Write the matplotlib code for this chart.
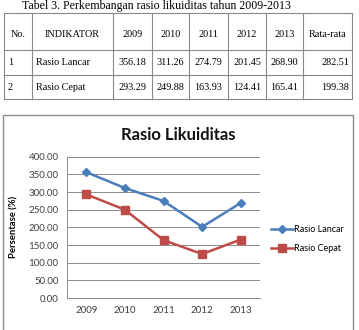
import matplotlib
matplotlib.use("Agg")
import matplotlib.pyplot as plt
from matplotlib.patches import Rectangle

years = ["2009", "2010", "2011", "2012", "2013"]
lancar = [356.18, 311.26, 274.79, 201.45, 268.90]
cepat = [293.29, 249.88, 163.93, 124.41, 165.41]
rata_lancar = 282.51
rata_cepat = 199.38
yticks = [0, 50, 100, 150, 200, 250, 300, 350, 400]

W, H = 359, 330
fig = plt.figure(figsize=(W / 100, H / 100), dpi=100)

# overlay in pixel coords for the table and the chart frame
ov = fig.add_axes([0, 0, 1, 1])
ov.set_xlim(0, W)
ov.set_ylim(H, 0)
ov.axis("off")

serif = "Liberation Serif"
ov.text(156, 6, "Tabel 3. Perkembangan rasio likuiditas tahun 2009-2013",
        ha="center", va="center", fontsize=8.6, family=serif)

cols = [4, 32, 113, 152, 189, 228, 266, 303, 352]
rows = [13, 50, 75, 99]
for x in cols:
    ov.plot([x, x], [rows[0], rows[-1]], color="#888888", lw=0.8)
for y in rows:
    ov.plot([cols[0], cols[-1]], [y, y], color="#888888", lw=0.8)

header = ["No.", "INDIKATOR"] + years + ["Rata-rata"]
table_rows = [
    ["1", "Rasio Lancar"] + ["%.2f" % v for v in lancar] + ["%.2f" % rata_lancar],
    ["2", "Rasio Cepat"] + ["%.2f" % v for v in cepat] + ["%.2f" % rata_cepat],
]
fs = 7.3
hy = (rows[0] + rows[1]) / 2 + 3
for i, h in enumerate(header):
    ov.text((cols[i] + cols[i + 1]) / 2, hy, h, ha="center", va="center",
            fontsize=fs, family=serif)
for r, vals in enumerate(table_rows):
    y = (rows[r + 1] + rows[r + 2]) / 2
    for i, v in enumerate(vals):
        if i < 2:
            ov.text(cols[i] + 4, y, v, ha="left", va="center", fontsize=fs, family=serif)
        elif i == 7:
            ov.text(cols[i + 1] - 3, y, v, ha="right", va="center", fontsize=fs, family=serif)
        else:
            ov.text((cols[i] + cols[i + 1]) / 2, y, v, ha="center", va="center",
                    fontsize=fs, family=serif)

# chart frame
ov.add_patch(Rectangle((3, 115), 350, 220, fill=False, ec="#8c8c8c", lw=1.0))

ov.text(178, 135, "Rasio Likuiditas", ha="center", va="center",
        fontsize=12, fontweight="bold", family="Lato", color="#111111")

ax = fig.add_axes([67 / W, 1 - 298 / H, 193 / W, 141.3 / H])
x = range(len(years))
ax.plot(x, lancar, color="#4A7EBB", lw=1.8, marker="D", ms=3.6, label="Rasio Lancar")
ax.plot(x, cepat, color="#BE4B48", lw=1.8, marker="s", ms=5.3, label="Rasio Cepat")
ax.set_xlim(-0.5, 4.5)
ax.set_ylim(0, 400)
ax.set_yticks(yticks)
ax.set_yticklabels(["%.2f" % v for v in yticks])
ax.set_xticks(list(x))
ax.set_xticklabels(years)
ax.grid(axis="y", color="#8c8c8c", lw=0.7)
ax.set_axisbelow(True)
for s in ["top", "right"]:
    ax.spines[s].set_visible(False)
for s in ["left", "bottom"]:
    ax.spines[s].set_color("#8c8c8c")
    ax.spines[s].set_linewidth(0.7)
ax.tick_params(length=0, labelsize=7, colors="#404040", pad=6)
for lab in ax.get_xticklabels() + ax.get_yticklabels():
    lab.set_family("Lato")
ax.set_ylabel("Persentase (%)", fontsize=6.8, fontweight="bold", family="Lato",
              labelpad=7)
ax.legend(loc="center left", bbox_to_anchor=(1.035, 0.415), frameon=False,
          prop={"family": "Lato", "size": 6.5}, handlelength=2.4,
          handletextpad=0.15, labelspacing=1.1, borderpad=0)

fig.savefig("out.png", dpi=100)
